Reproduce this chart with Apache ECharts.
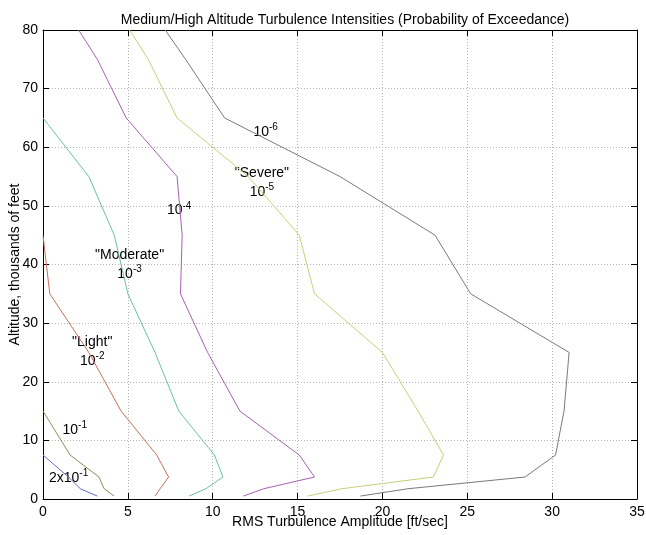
<!DOCTYPE html>
<html>
<head>
<meta charset="utf-8">
<script src="https://cdn.jsdelivr.net/npm/echarts@6/dist/echarts.min.js"></script>
<style>html,body{margin:0;padding:0;background:#fff}#c{width:646px;height:535px}</style>
</head>
<body>
<div id="c"></div>
<script>
// Altitude, thousands of feet
var altitudes = [0.5, 1.75, 3.75, 7.5, 15, 25, 35, 45, 55, 65, 75, 80];
// RMS turbulence amplitude (ft/sec) per probability of exceedance
var p2e1 = [3.2, 2.2, 1.5, 0];
var p1e1 = [4.2, 3.6, 3.3, 1.6, 0];
var p1e2 = [6.6, 6.9, 7.4, 6.7, 4.6, 2.7, 0.4, 0];
var p1e3 = [8.6, 9.6, 10.6, 10.1, 8.0, 6.6, 5.0, 4.2, 2.7, 0];
var p1e4 = [11.8, 13.0, 16.0, 15.1, 11.6, 9.7, 8.1, 8.2, 7.9, 4.9, 3.2, 2.1];
var p1e5 = [15.6, 17.6, 23.0, 23.6, 22.1, 20.0, 16.0, 15.1, 12.1, 7.9, 6.2, 5.1];
var p1e6 = [18.7, 21.5, 28.4, 30.2, 30.7, 31.0, 25.2, 23.1, 17.5, 10.7, 8.4, 7.2];

var xTicks = [0, 5, 10, 15, 20, 25, 30, 35];
var yTicks = [0, 10, 20, 30, 40, 50, 60, 70, 80];

// annotations: [x, y, base text, superscript]
var annotations = [
  [0.35, 3.6, '2x10', '-1'],
  [1.15, 11.8, '10', '-1'],
  [2.9, 26.8, '"Light"', ''],
  [2.9, 23.6, '10', '-2'],
  [5.1, 41.6, '"Moderate"', ''],
  [5.1, 38.4, '10', '-3'],
  [7.3, 49.2, '10', '-4'],
  [12.9, 55.6, '"Severe"', ''],
  [12.9, 52.4, '10', '-5'],
  [12.4, 62.6, '10', '-6']
];
var annotationAlign = ['left', 'left', 'center', 'center', 'center', 'center', 'left', 'center', 'center', 'left'];

var series = [
  {name: '2x10^-1', vals: p2e1, color: '#6a6ac8'},
  {name: '10^-1', vals: p1e1, color: '#7a9a52'},
  {name: '10^-2', vals: p1e2, color: '#c8705a'},
  {name: '10^-3', vals: p1e3, color: '#6cc0a2'},
  {name: '10^-4', vals: p1e4, color: '#a660b2'},
  {name: '10^-5', vals: p1e5, color: '#cccc7a'},
  {name: '10^-6', vals: p1e6, color: '#7a7a7a'}
];

var FONT = 'Liberation Sans, Arial, sans-serif';
var chart = echarts.init(document.getElementById('c'), null, {renderer: 'canvas'});

var lineSeries = series.map(function (s) {
  return {
    type: 'line',
    name: s.name,
    data: s.vals.map(function (v, i) { return [v, altitudes[i]]; }),
    symbol: 'none',
    silent: true,
    animation: false,
    lineStyle: {color: s.color, width: 1}
  };
});

var annSeries = {
  type: 'scatter',
  symbolSize: 0,
  silent: true,
  animation: false,
  itemStyle: {opacity: 1},
  data: annotations.map(function (a, i) {
    return {
      value: [a[0], a[1]],
      label: {
        show: true,
        position: 'inside',
        align: annotationAlign[i],
        color: '#000',
        opacity: 1,
        textBorderWidth: 0,
        formatter: a[3] ? '{b|' + a[2] + '}{s|' + a[3] + '}' : '{b|' + a[2] + '}',
        rich: {
          b: {fontSize: 14, fontFamily: FONT, color: '#000', textBorderWidth: 0},
          s: {fontSize: 10, fontFamily: FONT, color: '#000', textBorderWidth: 0, padding: [0, 0, 9, 0]}
        }
      }
    };
  })
};

var axisLineStyle = {color: '#000', width: 1};
var gridLine = {show: true, lineStyle: {color: '#b4b4b4', type: [1, 2], width: 1}};

chart.setOption({
  backgroundColor: '#fff',
  animation: false,
  title: {
    text: 'Medium/High Altitude Turbulence Intensities (Probability of Exceedance)',
    left: 340, top: 8, textAlign: 'center',
    textStyle: {fontSize: 14, fontWeight: 'normal', color: '#000', fontFamily: FONT}
  },
  grid: {left: 43, right: 9, top: 30, bottom: 36, containLabel: false, outerBoundsMode: 'none'},
  xAxis: [{
    type: 'value', min: 0, max: 35, interval: 5,
    name: 'RMS Turbulence Amplitude [ft/sec]', nameLocation: 'middle', nameGap: 16,
    nameMoveOverlap: false,
    nameTextStyle: {fontSize: 14, color: '#000', fontFamily: FONT},
    axisLine: {show: true, onZero: false, lineStyle: axisLineStyle},
    axisTick: {show: true, inside: true, length: 6, lineStyle: axisLineStyle},
    axisLabel: {fontSize: 14, color: '#000', fontFamily: FONT, margin: 6,
      formatter: function (v) { return xTicks.indexOf(v) >= 0 ? String(v) : ''; }},
    splitLine: gridLine
  }, {
    type: 'value', min: 0, max: 35, interval: 5, position: 'top',
    axisLine: {show: true, onZero: false, lineStyle: axisLineStyle},
    axisTick: {show: true, inside: true, length: 6, lineStyle: axisLineStyle},
    axisLabel: {show: false}, splitLine: {show: false}
  }],
  yAxis: [{
    type: 'value', min: 0, max: 80, interval: 10,
    name: 'Altitude, thousands of feet', nameLocation: 'middle', nameGap: 21,
    nameMoveOverlap: false,
    nameTextStyle: {fontSize: 14, color: '#000', fontFamily: FONT},
    axisLine: {show: true, onZero: false, lineStyle: axisLineStyle},
    axisTick: {show: true, inside: true, length: 6, lineStyle: axisLineStyle},
    axisLabel: {fontSize: 14, color: '#000', fontFamily: FONT, margin: 5,
      formatter: function (v) { return yTicks.indexOf(v) >= 0 ? String(v) : ''; }},
    splitLine: gridLine
  }, {
    type: 'value', min: 0, max: 80, interval: 10, position: 'right',
    axisLine: {show: true, onZero: false, lineStyle: axisLineStyle},
    axisTick: {show: true, inside: true, length: 6, lineStyle: axisLineStyle},
    axisLabel: {show: false}, splitLine: {show: false}
  }],
  series: lineSeries.concat([annSeries])
});
</script>
</body>
</html>
